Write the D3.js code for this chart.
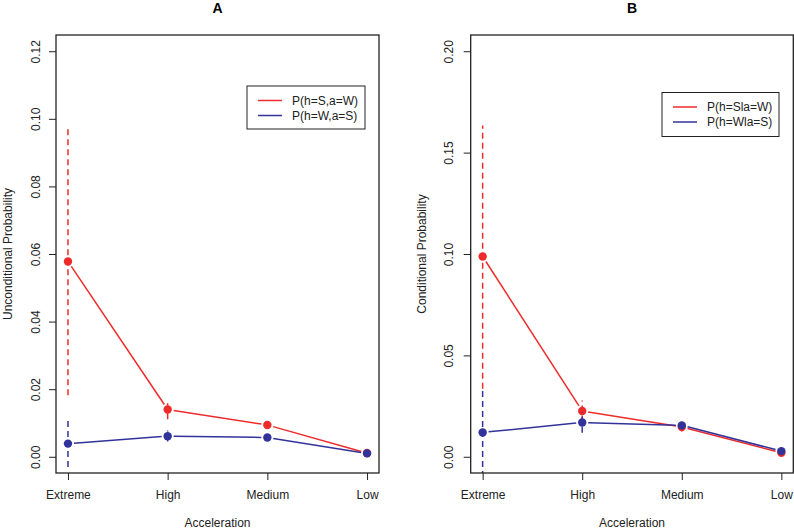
<!DOCTYPE html>
<html>
<head>
<meta charset="utf-8">
<script src="https://cdn.jsdelivr.net/npm/d3@7"></script>
<style>
  body { margin: 0; background: #fff; }
  svg { font-family: "Liberation Sans", Arial, sans-serif; }
</style>
</head>
<body>
<svg id="chart" width="794" height="531"></svg>
<script>
// categories on the x axis
var levels = ["Extreme", "High", "Medium", "Low"];

// panel A: unconditional probabilities
var aRed = [0.0578, 0.0140, 0.0094, 0.0011];
var aRedLo = [0.0182, 0.0111, 0.0085, 0.0007];
var aRedHi = [0.0975, 0.0167, 0.0103, 0.0015];
var aBlue = [0.0039, 0.0061, 0.0057, 0.0010];
var aBlueLo = [-0.0030, 0.0045, 0.0050, 0.0007];
var aBlueHi = [0.0108, 0.0078, 0.0064, 0.0013];
var aTicks = [0, 0.02, 0.04, 0.06, 0.08, 0.10, 0.12];

// panel B: conditional probabilities
var bRed = [0.0988, 0.0226, 0.0147, 0.0020];
var bRedLo = [0.0336, 0.0174, 0.0125, 0.0012];
var bRedHi = [0.1634, 0.0278, 0.0169, 0.0028];
var bBlue = [0.0120, 0.0169, 0.0155, 0.0028];
var bBlueLo = [-0.0100, 0.0119, 0.0135, 0.0020];
var bBlueHi = [0.0336, 0.0219, 0.0175, 0.0036];
var bTicks = [0, 0.05, 0.10, 0.15, 0.20];

var red = "#ee2b2b", blue = "#31339a";

var svg = d3.select("#chart");

function panel(opt) {
  var g = svg.append("g");
  var x = d3.scaleLinear().domain([0.88, 4.12]).range([opt.left, opt.right]);
  var y = d3.scaleLinear().domain(opt.ydom).range([opt.bottom, opt.top]);

  var clipId = "clip" + opt.title;
  g.append("clipPath").attr("id", clipId).append("rect")
    .attr("x", opt.left).attr("y", opt.top)
    .attr("width", opt.right - opt.left).attr("height", opt.bottom - opt.top);

  // title
  g.append("text").attr("x", (opt.left + opt.right) / 2).attr("y", 13)
    .attr("text-anchor", "middle").style("font-weight", "bold").style("font-size", "14px")
    .text(opt.title);

  // y axis
  var yAxis = d3.axisLeft(y).tickValues(opt.yticks).tickSize(7).tickPadding(4)
    .tickFormat(d3.format(opt.yfmt));
  var ya = g.append("g").attr("transform", "translate(" + opt.left + ",0)").call(yAxis);
  ya.select(".domain").remove();
  ya.selectAll(".tick line").attr("stroke", "#222");
  ya.selectAll(".tick text")
    .attr("x", 0).attr("text-anchor", "middle")
    .attr("transform", "translate(" + (opt.ylabX - opt.left) + ",0) rotate(-90)")
    .attr("dy", "0.35em")
    .style("font-size", "12px").attr("fill", "#222");

  // x axis
  var xAxis = d3.axisBottom(x).tickValues([1, 2, 3, 4]).tickSize(7).tickPadding(10)
    .tickFormat(function (d) { return levels[d - 1]; });
  var xa = g.append("g").attr("transform", "translate(0," + opt.bottom + ")").call(xAxis);
  xa.select(".domain").remove();
  xa.selectAll(".tick line").attr("stroke", "#222");
  xa.selectAll(".tick text").style("font-size", "12px").attr("fill", "#222");

  // axis titles
  g.append("text").attr("x", (opt.left + opt.right) / 2).attr("y", 527)
    .attr("text-anchor", "middle").style("font-size", "12px").attr("fill", "#222")
    .text("Acceleration");
  g.append("text")
    .attr("transform", "translate(" + opt.ytitleX + "," + ((opt.top + opt.bottom) / 2) + ") rotate(-90)")
    .attr("text-anchor", "middle").style("font-size", "12px").attr("fill", "#222")
    .text(opt.ytitle);

  var plot = g.append("g").attr("clip-path", "url(#" + clipId + ")");

  function series(vals, lo, hi, col) {
    // dashed intervals
    plot.selectAll(null).data(vals).enter().append("line")
      .attr("x1", function (d, i) { return x(i + 1); })
      .attr("x2", function (d, i) { return x(i + 1); })
      .attr("y1", function (d, i) { return y(lo[i]); })
      .attr("y2", function (d, i) { return y(hi[i]); })
      .attr("stroke", col).attr("stroke-width", 1.5).attr("stroke-dasharray", "6,4");
    // connecting segments with gaps round points (type = "b")
    var gap = 6;
    for (var i = 0; i < vals.length - 1; i++) {
      var x1 = x(i + 1), y1 = y(vals[i]), x2 = x(i + 2), y2 = y(vals[i + 1]);
      var len = Math.hypot(x2 - x1, y2 - y1), ux = (x2 - x1) / len, uy = (y2 - y1) / len;
      plot.append("line")
        .attr("x1", x1 + ux * gap).attr("y1", y1 + uy * gap)
        .attr("x2", x2 - ux * gap).attr("y2", y2 - uy * gap)
        .attr("stroke", col).attr("stroke-width", 1.5);
    }
    plot.selectAll(null).data(vals).enter().append("circle")
      .attr("cx", function (d, i) { return x(i + 1); })
      .attr("cy", function (d) { return y(d); })
      .attr("r", 4.2).attr("fill", col);
  }
  series(opt.red, opt.redLo, opt.redHi, red);
  series(opt.blue, opt.blueLo, opt.blueHi, blue);

  // box
  g.append("rect").attr("x", opt.left).attr("y", opt.top)
    .attr("width", opt.right - opt.left).attr("height", opt.bottom - opt.top)
    .attr("fill", "none").attr("stroke", "#222").attr("stroke-width", 1.3);

  // legend
  var lg = g.append("g");
  lg.append("rect").attr("x", opt.leg[0]).attr("y", opt.leg[1])
    .attr("width", opt.leg[2]).attr("height", opt.leg[3])
    .attr("fill", "#fff").attr("stroke", "#222").attr("stroke-width", 1);
  var items = [{ c: red, t: opt.legText[0] }, { c: blue, t: opt.legText[1] }];
  items.forEach(function (it, k) {
    var yy = opt.leg[1] + 14.5 + k * 15;
    lg.append("line").attr("x1", opt.leg[0] + 11).attr("x2", opt.leg[0] + 35)
      .attr("y1", yy).attr("y2", yy).attr("stroke", it.c).attr("stroke-width", 1.5);
    lg.append("text").attr("x", opt.leg[0] + 45).attr("y", yy).attr("dy", "0.35em")
      .style("font-size", "12px").attr("fill", "#222").text(it.t);
  });
}

panel({
  title: "A", left: 56, right: 379, top: 35, bottom: 473,
  ydom: [-0.0048, 0.1248], yticks: aTicks, yfmt: ".2f", ylabX: 36,
  ytitle: "Unconditional Probability", ytitleX: 12,
  red: aRed, redLo: aRedLo, redHi: aRedHi,
  blue: aBlue, blueLo: aBlueLo, blueHi: aBlueHi,
  leg: [247, 86, 118, 43], legText: ["P(h=S,a=W)", "P(h=W,a=S)"]
});

panel({
  title: "B", left: 470.7, right: 793.3, top: 35, bottom: 473,
  ydom: [-0.008, 0.208], yticks: bTicks, yfmt: ".2f", ylabX: 449,
  ytitle: "Conditional Probability", ytitleX: 426,
  red: bRed, redLo: bRedLo, redHi: bRedHi,
  blue: bBlue, blueLo: bBlueLo, blueHi: bBlueHi,
  leg: [662, 92.5, 117, 44], legText: ["P(h=Sla=W)", "P(h=Wla=S)"]
});
</script>
</body>
</html>
